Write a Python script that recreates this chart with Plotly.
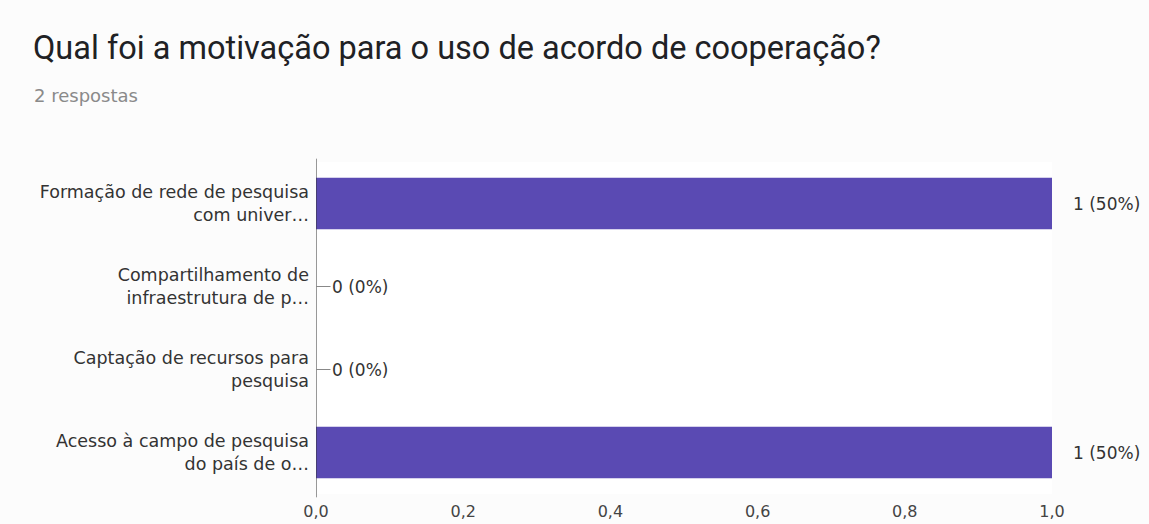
import plotly.graph_objects as go

# Survey answers (categories top to bottom) and response counts
categories = [
    "Formação de rede de pesquisa<br>com univer…",
    "Compartilhamento de<br>infraestrutura de p…",
    "Captação de recursos para<br>pesquisa",
    "Acesso à campo de pesquisa<br>do país de o…",
]
counts = [1, 0, 0, 1]
percents = [50, 0, 0, 50]
x_ticks = [0.0, 0.2, 0.4, 0.6, 0.8, 1.0]

title_text = "Qual foi a motivação para o uso de acordo de cooperação?"
subtitle_text = "2 respostas"

bar_color = "#5a4ab3"
label_font = "DejaVu Sans, Arial"

fig = go.Figure()
fig.add_trace(go.Bar(
    y=categories,
    x=counts,
    orientation="h",
    marker=dict(color=bar_color, line=dict(width=0)),
    width=0.62,
    hoverinfo="skip",
))

annotations = []
for cat, c, p in zip(categories, counts, percents):
    label = f"{c} ({p}%)"
    if c == 0:
        annotations.append(dict(
            x=c, y=cat, xref="x", yref="y",
            text=label, showarrow=True, arrowhead=0, arrowwidth=1,
            arrowcolor="#888888", ax=44, ay=0, standoff=0,
            font=dict(family=label_font, size=17, color="#333333"),
        ))
    else:
        annotations.append(dict(
            x=c, y=cat, xref="x", yref="y",
            text=label, showarrow=False, xanchor="left", xshift=19,
            font=dict(family=label_font, size=17, color="#333333"),
        ))

W, H = 1149, 524
L, R, T, B = 316, 97, 162, 30


def to_paper(px, py):
    return (px - L) / (W - L - R), 1 + (T - py) / (H - T - B)


tx, ty = to_paper(31, 48)
sx, sy = to_paper(32, 96)
annotations.append(dict(
    x=tx, y=ty, xref="paper", yref="paper", text=title_text, showarrow=False,
    xanchor="left", yanchor="middle",
    font=dict(family="Roboto, Arial", size=32.5, color="#202124"),
))
annotations.append(dict(
    x=sx, y=sy, xref="paper", yref="paper", text=subtitle_text, showarrow=False,
    xanchor="left", yanchor="middle",
    font=dict(family=label_font, size=18, color="#8a8a8a"),
))

fig.update_layout(
    width=W, height=H,
    margin=dict(l=L, r=R, t=T, b=B),
    paper_bgcolor="#fcfcfc",
    plot_bgcolor="#ffffff",
    separators=",.",
    showlegend=False,
    annotations=annotations,
    xaxis=dict(
        range=[0, 1], tickvals=x_ticks, tickformat=".1f",
        showgrid=False, zeroline=False, showline=False,
        ticks="", ticklabelstandoff=6, automargin=False,
        tickfont=dict(family=label_font, size=16, color="#444444"),
        fixedrange=True,
    ),
    yaxis=dict(
        range=[3.5, -0.5], autorange=False,
        showgrid=False, zeroline=False, automargin=False,
        showline=False, ticks="",
        tickfont=dict(family=label_font, size=17.5, color="#333333"),
        ticklabelstandoff=6,
    ),
)

# dark baseline at zero
fig.add_shape(type="line", xref="x", yref="paper", x0=0, x1=0, y0=-0.01, y1=1.01,
              line=dict(color="#333333", width=1))

fig.write_html("out.html")
